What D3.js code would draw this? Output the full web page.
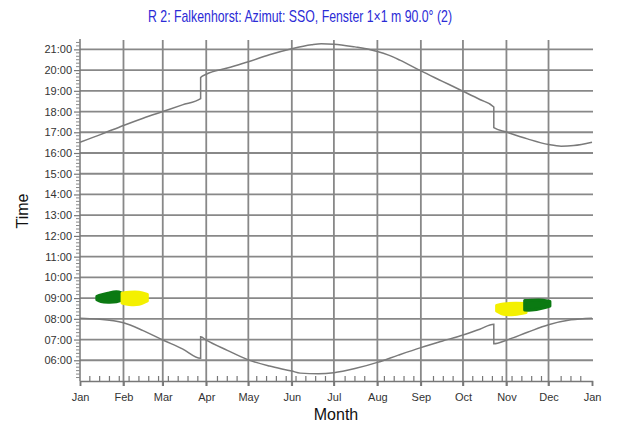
<!DOCTYPE html>
<html>
<head>
<meta charset="utf-8">
<script src="https://cdn.jsdelivr.net/npm/d3@7"></script>
<style>
	body { margin: 0; background: #fff; }
	svg { display: block; }
	text { font-family: "Liberation Sans", Arial, sans-serif; }
</style>
</head>
<body>
<div id="chart"></div>
<script>
	'use strict'
	// month starts as day of year, last one is next Jan
	var monthDays = [0, 31, 59, 90, 120, 151, 181, 212, 243, 273, 304, 334, 365];
	var monthLabels = ["Jan", "Feb", "Mar", "Apr", "May", "Jun", "Jul", "Aug", "Sep", "Oct", "Nov", "Dec", "Jan"];
	var hourTicks = [6, 7, 8, 9, 10, 11, 12, 13, 14, 15, 16, 17, 18, 19, 20, 21];

	// sunset [day, hour] (DST jumps kept as double points)
	var sunset = [[0, 16.52], [15, 16.9], [31, 17.33], [45, 17.68], [59, 18.0], [73, 18.32], [86, 18.62],
		[86, 19.64], [90, 19.8], [105, 20.1], [120, 20.4], [135, 20.74], [151, 21.03], [165, 21.22],
		[172, 21.27], [181, 21.25], [196, 21.12], [205, 21.02], [212, 20.9], [220, 20.72], [228, 20.48],
		[243, 19.96], [258, 19.47], [273, 18.98], [285, 18.58], [295, 18.22], [295, 17.22], [304, 17.01],
		[319, 16.68], [334, 16.41], [343, 16.33], [352, 16.36], [365, 16.52]];

	// sunrise [day, hour]
	var sunrise = [[0, 8.03], [12, 7.99], [31, 7.81], [45, 7.43], [59, 6.98], [73, 6.55], [86, 6.1],
		[86, 7.13], [90, 6.97], [105, 6.48], [120, 6.02], [135, 5.72], [151, 5.48], [157, 5.38],
		[170, 5.35], [181, 5.4], [196, 5.6], [212, 5.9], [227, 6.25], [243, 6.61], [258, 6.92],
		[273, 7.22], [285, 7.5], [295, 7.74], [295, 6.8], [304, 6.97], [319, 7.35], [334, 7.71],
		[350, 7.95], [365, 8.03]];

	// sun in window patches [day, from hour, to hour]
	var janGreen = [[12, 8.92, 9.08], [15, 8.83, 9.15], [20, 8.8, 9.24], [26, 8.82, 9.3], [30, 8.9, 9.24]];
	var janYellow = [[30, 8.76, 9.24], [35, 8.69, 9.28], [42, 8.7, 9.28], [48, 8.86, 9.18]];
	var novYellow = [[297, 8.38, 8.64], [302, 8.22, 8.72], [310, 8.21, 8.75], [318, 8.3, 8.74]];
	var novGreen = [[317, 8.42, 8.88], [322, 8.42, 8.9], [330, 8.52, 8.9], [335, 8.62, 8.84]];

	(function(){
		var width = 619, height = 430;
		var plotL = 80, plotR = 592, plotT = 39, plotB = 381;

		var svg = d3.select("#chart").append("svg")
					.attr("width", width)
					.attr("height", height);

		var x = d3.scaleLinear().domain([0, 365]).range([plotL, plotR]);
		var y = d3.scaleLinear().domain([5, 21.5]).range([plotB, plotT]);

		var gridColor = "#888";

		// horizontal grid
		svg.append("g").selectAll("line")
			.data(hourTicks)
			.enter().append("line")
				.attr("x1", plotL).attr("x2", plotR + 1)
				.attr("y1", function(d){ return y(d); })
				.attr("y2", function(d){ return y(d); })
				.attr("stroke", gridColor)
				.attr("stroke-width", 1.8);

		// vertical grid at month starts
		svg.append("g").selectAll("line")
			.data(monthDays.slice(1, 12))
			.enter().append("line")
				.attr("x1", function(d){ return x(d); })
				.attr("x2", function(d){ return x(d); })
				.attr("y1", plotT + 1).attr("y2", plotB + 5)
				.attr("stroke", gridColor)
				.attr("stroke-width", 1.8);

		// x axis
		var xAxis = d3.axisBottom(x)
						.tickValues(monthDays)
						.tickFormat(function(d, i){ return monthLabels[i]; })
						.tickSize(5)
						.tickPadding(7);
		var gx = svg.append("g")
					.attr("transform", "translate(0," + plotB + ")")
					.call(xAxis);
		gx.select(".domain").attr("stroke", "#777").attr("stroke-width", 1.5);
		gx.selectAll(".tick line").attr("stroke", "#777").attr("stroke-width", 1.5);
		gx.selectAll(".tick text")
			.attr("font-size", "11px")
			.attr("fill", "#333")
			.style("font-family", "'Liberation Sans', Arial, sans-serif");

		// weekly minor ticks, pointing up
		var weeks = d3.range(7, 365, 7).filter(function(d){
			return monthDays.every(function(m){ return Math.abs(m - d) > 2; });
		});
		svg.append("g").selectAll("line")
			.data(weeks)
			.enter().append("line")
				.attr("x1", function(d){ return x(d); })
				.attr("x2", function(d){ return x(d); })
				.attr("y1", plotB).attr("y2", plotB - 5)
				.attr("stroke", "#777")
				.attr("stroke-width", 1.2);

		// y axis
		var yAxis = d3.axisLeft(y)
						.tickValues(hourTicks)
						.tickFormat(function(d){ return d3.format("02d")(d) + ":00"; })
						.tickSize(6)
						.tickPadding(2);
		var gy = svg.append("g")
					.attr("transform", "translate(" + plotL + ",0)")
					.call(yAxis);
		gy.select(".domain").attr("stroke", "#777").attr("stroke-width", 1.5).attr("d", "M0," + plotT + "V" + plotB);
		gy.selectAll(".tick line").attr("stroke", "#777").attr("stroke-width", 1.2);
		gy.selectAll(".tick text")
			.attr("font-size", "11px")
			.attr("fill", "#333")
			.style("font-family", "'Liberation Sans', Arial, sans-serif");

		// 10 minute minor ticks
		var minors = d3.range(5, 21.5, 1 / 6).filter(function(d){
			return Math.abs(d - Math.round(d)) > 0.01;
		});
		svg.append("g").selectAll("line")
			.data(minors)
			.enter().append("line")
				.attr("x1", plotL - 4).attr("x2", plotL)
				.attr("y1", function(d){ return y(d); })
				.attr("y2", function(d){ return y(d); })
				.attr("stroke", "#888")
				.attr("stroke-width", 1);

		// sunrise / sunset curves
		var line = d3.line()
					.x(function(d){ return x(d[0]); })
					.y(function(d){ return y(d[1]); })
					.curve(d3.curveMonotoneX);
		[sunset, sunrise].forEach(function(s){
			svg.append("path")
				.datum(s)
				.attr("d", line)
				.attr("fill", "none")
				.attr("stroke", "#7a7a7a")
				.attr("stroke-width", 1.5);
		});

		// patches
		var area = d3.area()
					.x(function(d){ return x(d[0]); })
					.y0(function(d){ return y(d[1]); })
					.y1(function(d){ return y(d[2]); })
					.curve(d3.curveCatmullRom);
		var patches = [[janGreen, "#0b7a12"], [janYellow, "#f4f000"], [novYellow, "#f4f000"], [novGreen, "#0b7a12"]];
		patches.forEach(function(p){
			svg.append("path")
				.datum(p[0])
				.attr("d", area)
				.attr("fill", p[1])
				.attr("stroke", p[1])
				.attr("stroke-width", 3)
				.attr("stroke-linejoin", "round");
		});

		// title and axis titles
		svg.append("text")
			.attr("x", 300).attr("y", 22)
			.attr("text-anchor", "middle")
			.attr("font-size", "17px")
			.attr("fill", "#2b2bd6")
			.attr("textLength", 304)
			.attr("lengthAdjust", "spacingAndGlyphs")
			.text("R 2: Falkenhorst: Azimut: SSO, Fenster 1\u00d71 m  90.0\u00b0 (2)");

		svg.append("text")
			.attr("x", 336).attr("y", 420)
			.attr("text-anchor", "middle")
			.attr("font-size", "16px")
			.attr("fill", "#111")
			.text("Month");

		svg.append("text")
			.attr("transform", "translate(28,211) rotate(-90)")
			.attr("text-anchor", "middle")
			.attr("font-size", "16px")
			.attr("fill", "#111")
			.text("Time");
	})();
</script>
</body>
</html>
